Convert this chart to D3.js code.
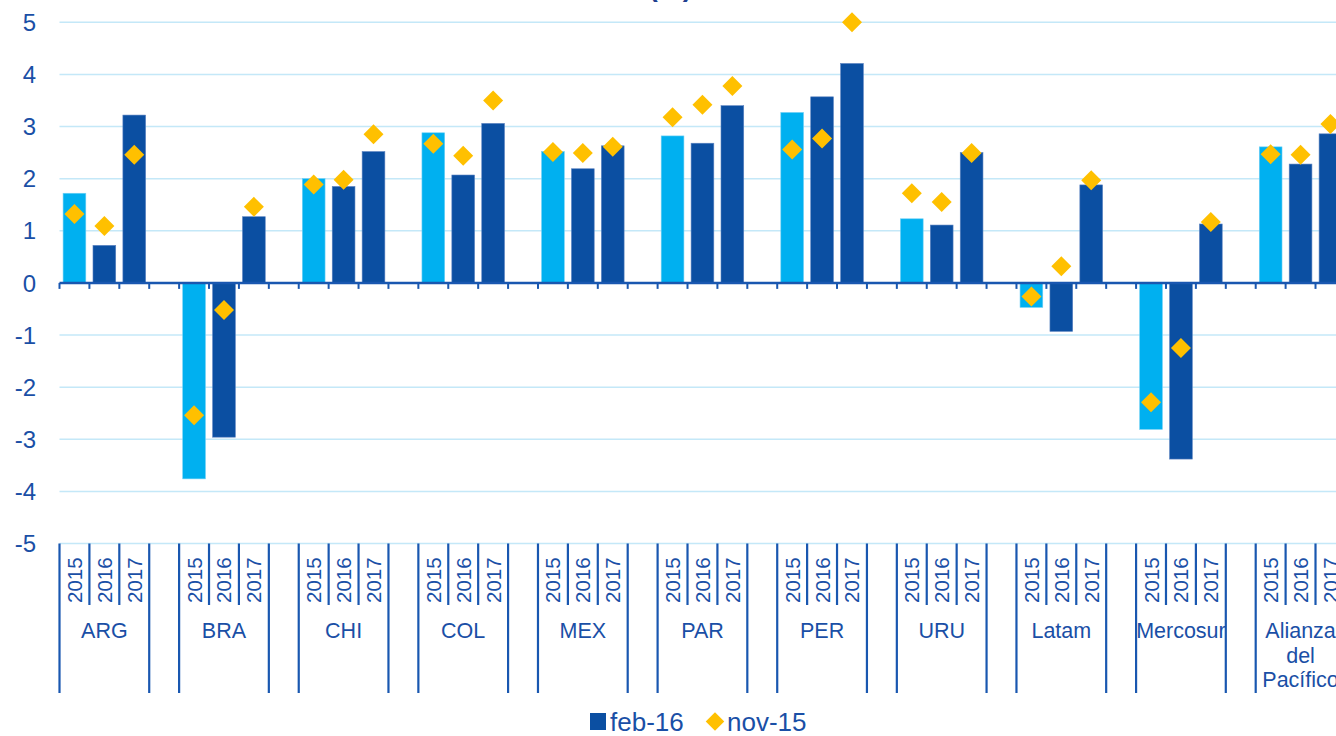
<!DOCTYPE html>
<html>
<head>
<meta charset="utf-8">
<script src="https://cdn.jsdelivr.net/npm/d3@7"></script>
<style>
  body { margin: 0; background: #fff; }
  svg { display: block; font-family: "Liberation Sans", Arial, sans-serif; }
</style>
</head>
<body>
<script>
// categories
const groups = ["ARG", "BRA", "CHI", "COL", "MEX", "PAR", "PER", "URU", "Latam", "Mercosur", "Alianza del Pacífico"];
const years = ["2015", "2016", "2017"];

// feb-16 forecast (bars), one array per year
const feb16_2015 = [1.72, -3.76, 2.00, 2.88, 2.52, 2.82, 3.27, 1.23, -0.47, -2.81, 2.61];
const feb16_2016 = [0.72, -2.96, 1.85, 2.07, 2.19, 2.68, 3.57, 1.11, -0.93, -3.38, 2.28];
const feb16_2017 = [3.22, 1.27, 2.52, 3.06, 2.63, 3.40, 4.21, 2.50, 1.88, 1.13, 2.86];

// nov-15 forecast (diamonds)
const nov15_2015 = [1.32, -2.54, 1.89, 2.67, 2.51, 3.18, 2.56, 1.72, -0.26, -2.29, 2.47];
const nov15_2016 = [1.09, -0.52, 1.98, 2.44, 2.49, 3.42, 2.77, 1.55, 0.32, -1.25, 2.46];
const nov15_2017 = [2.46, 1.46, 2.85, 3.50, 2.61, 3.78, 5.00, 2.49, 1.97, 1.17, 3.05];

const yTicks = [-5, -4, -3, -2, -1, 0, 1, 2, 3, 4, 5];

const width = 1336;
const height = 736;

const textColor = "#1a4fa6";
const axisColor = "#1957b0";
const darkBlue = "#0b4fa2";
const lightBlue = "#00b0f0";
const gold = "#ffc000";

const svg = d3.select("body")
    .append("svg")
    .attr("width", width)
    .attr("height", height);

// every group takes 3 year slots plus one empty slot as a gap
const slots = [];
groups.forEach((g, gi) => {
    years.forEach((y, yi) => slots.push(gi + "|" + yi));
    slots.push(gi + "|gap");
});

const plotLeft = 59.5;
const slotW = 29.905;

const x = d3.scaleBand()
    .domain(slots)
    .range([plotLeft, plotLeft + slots.length * slotW])
    .padding(0);

const y = d3.scaleLinear()
    .domain([-5, 5])
    .range([543.5, 22.3]);

const feb16 = [feb16_2015, feb16_2016, feb16_2017];
const nov15 = [nov15_2015, nov15_2016, nov15_2017];

const barData = [];
const dotData = [];
groups.forEach((g, gi) => {
    years.forEach((yr, yi) => {
        barData.push({ slot: gi + "|" + yi, year: yi, value: feb16[yi][gi] });
        dotData.push({ slot: gi + "|" + yi, value: nov15[yi][gi] });
    });
});

// cut-off title at the very top
svg.append("text")
    .attr("x", 692)
    .attr("y", -4)
    .attr("text-anchor", "end")
    .style("font-size", "28px")
    .style("font-weight", "bold")
    .style("fill", "#1f3f8f")
    .text("Crecimiento del PIB (%)");

// gridlines
svg.append("g")
    .selectAll("line")
    .data(yTicks.filter(d => d !== 0))
    .enter()
    .append("line")
    .attr("x1", plotLeft)
    .attr("x2", width)
    .attr("y1", d => y(d))
    .attr("y2", d => y(d))
    .attr("stroke", "#c4e8f8")
    .attr("stroke-width", 1.5);

// y axis labels
svg.append("g")
    .selectAll("text")
    .data(yTicks)
    .enter()
    .append("text")
    .attr("x", 36)
    .attr("y", d => y(d))
    .attr("dy", "0.36em")
    .attr("text-anchor", "end")
    .style("font-size", "24px")
    .style("fill", textColor)
    .text(d => d);

// bars
const bw = x.bandwidth() * 0.76;
svg.append("g")
    .selectAll("rect")
    .data(barData)
    .enter()
    .append("rect")
    .attr("x", d => x(d.slot) + (x.bandwidth() - bw) / 2)
    .attr("y", d => Math.min(y(d.value), y(0)))
    .attr("width", bw)
    .attr("height", d => Math.abs(y(d.value) - y(0)))
    .attr("fill", d => d.year === 0 ? lightBlue : darkBlue)
    .attr("stroke", d => d.year === 0 ? "#6fd0f5" : "#5a82c0")
    .attr("stroke-width", 0.6);

// zero axis with ticks
const zeroAxis = d3.axisBottom(x)
    .tickSize(0)
    .tickFormat("");
const za = svg.append("g")
    .attr("transform", `translate(0,${y(0)})`)
    .call(zeroAxis);
za.select(".domain").remove();
za.append("line")
    .attr("x1", plotLeft)
    .attr("x2", width)
    .attr("stroke", axisColor)
    .attr("stroke-width", 2.5);
za.selectAll(".slot-tick")
    .data(slots)
    .enter()
    .append("line")
    .attr("class", "slot-tick")
    .attr("x1", d => x(d))
    .attr("x2", d => x(d))
    .attr("y1", 0)
    .attr("y2", 6)
    .attr("stroke", axisColor)
    .attr("stroke-width", 2);

// diamonds
const diamond = d3.symbol().type(d3.symbolSquare).size(200);
svg.append("g")
    .selectAll("path")
    .data(dotData)
    .enter()
    .append("path")
    .attr("d", diamond)
    .attr("transform", d => `translate(${x(d.slot) + x.bandwidth() / 2},${y(d.value)}) rotate(45)`)
    .attr("fill", gold);

// multi level category axis at the bottom
const catTop = y(-5);
const cat = svg.append("g");

groups.forEach((g, gi) => {
    const left = x(gi + "|0");
    const right = x(gi + "|2") + x.bandwidth();

    // group borders
    [left, right].forEach(px => {
        cat.append("line")
            .attr("x1", px).attr("x2", px)
            .attr("y1", catTop).attr("y2", 693)
            .attr("stroke", axisColor)
            .attr("stroke-width", 2.2);
    });
    // year separators
    [1, 2].forEach(yi => {
        const px = x(gi + "|" + yi);
        cat.append("line")
            .attr("x1", px).attr("x2", px)
            .attr("y1", catTop).attr("y2", 605)
            .attr("stroke", axisColor)
            .attr("stroke-width", 2.2);
    });
    // years, rotated
    years.forEach((yr, yi) => {
        const cx = x(gi + "|" + yi) + x.bandwidth() / 2;
        cat.append("text")
            .attr("transform", `translate(${cx + 7.5},603) rotate(-90)`)
            .style("font-size", "20.5px")
            .style("fill", textColor)
            .text(yr);
    });

    // group name, wrapped when wider than the group
    const label = cat.append("text")
        .attr("x", (left + right) / 2)
        .attr("y", 638)
        .attr("text-anchor", "middle")
        .style("font-size", "21.5px")
        .style("fill", textColor);
    const words = g.split(" ");
    let line = [];
    let lineNo = 0;
    let tspan = label.append("tspan").attr("x", (left + right) / 2).attr("y", 638);
    words.forEach(w => {
        line.push(w);
        tspan.text(line.join(" "));
        if (tspan.node().getComputedTextLength() > right - left && line.length > 1) {
            line.pop();
            tspan.text(line.join(" "));
            line = [w];
            lineNo += 1;
            tspan = label.append("tspan")
                .attr("x", (left + right) / 2)
                .attr("y", 638 + lineNo * 24.5)
                .text(w);
        }
    });
});

// legend
const legend = svg.append("g");
legend.append("rect")
    .attr("x", 590)
    .attr("y", 713)
    .attr("width", 16)
    .attr("height", 17)
    .attr("fill", darkBlue);
legend.append("text")
    .attr("x", 610)
    .attr("y", 731)
    .style("font-size", "26px")
    .style("fill", textColor)
    .text("feb-16");
legend.append("path")
    .attr("d", d3.symbol().type(d3.symbolSquare).size(170))
    .attr("transform", "translate(715,721.5) rotate(45)")
    .attr("fill", gold);
legend.append("text")
    .attr("x", 727)
    .attr("y", 731)
    .style("font-size", "26px")
    .style("fill", textColor)
    .text("nov-15");
</script>
</body>
</html>
